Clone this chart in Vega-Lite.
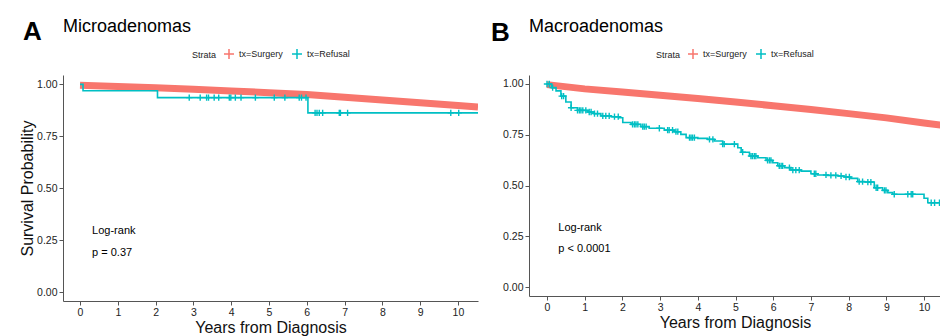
{
  "$schema": "https://vega.github.io/schema/vega-lite/v6.json",
  "padding": {"left": 19, "top": 17, "right": 0, "bottom": 0},
  "background": "white",
  "bounds": "flush",
  "spacing": 51,
  "resolve": {"scale": {"color": "independent"}, "legend": {"color": "independent"}},
  "datasets": {
    "surgeryA": [
      {"strata": "tx=Surgery", "t": 0, "s": 0.996},
      {"strata": "tx=Surgery", "t": 1, "s": 0.99},
      {"strata": "tx=Surgery", "t": 2, "s": 0.984},
      {"strata": "tx=Surgery", "t": 3, "s": 0.976},
      {"strata": "tx=Surgery", "t": 4, "s": 0.968},
      {"strata": "tx=Surgery", "t": 5, "s": 0.96},
      {"strata": "tx=Surgery", "t": 6, "s": 0.951},
      {"strata": "tx=Surgery", "t": 7, "s": 0.938},
      {"strata": "tx=Surgery", "t": 8, "s": 0.925},
      {"strata": "tx=Surgery", "t": 9, "s": 0.912},
      {"strata": "tx=Surgery", "t": 10, "s": 0.898},
      {"strata": "tx=Surgery", "t": 10.53, "s": 0.891}
    ],
    "refusalA": [
      {"strata": "tx=Refusal", "t": 0, "s": 1.0},
      {"strata": "tx=Refusal", "t": 0.08, "s": 0.969},
      {"strata": "tx=Refusal", "t": 2.05, "s": 0.936},
      {"strata": "tx=Refusal", "t": 6.03, "s": 0.863},
      {"strata": "tx=Refusal", "t": 10.53, "s": 0.863}
    ],
    "censorA": [
      {"strata": "tx=Refusal", "t": 2.89, "s": 0.936},
      {"strata": "tx=Refusal", "t": 3.18, "s": 0.936},
      {"strata": "tx=Refusal", "t": 3.35, "s": 0.936},
      {"strata": "tx=Refusal", "t": 3.4, "s": 0.936},
      {"strata": "tx=Refusal", "t": 3.55, "s": 0.936},
      {"strata": "tx=Refusal", "t": 3.67, "s": 0.936},
      {"strata": "tx=Refusal", "t": 3.95, "s": 0.936},
      {"strata": "tx=Refusal", "t": 3.99, "s": 0.936},
      {"strata": "tx=Refusal", "t": 4.11, "s": 0.936},
      {"strata": "tx=Refusal", "t": 4.26, "s": 0.936},
      {"strata": "tx=Refusal", "t": 4.64, "s": 0.936},
      {"strata": "tx=Refusal", "t": 5.14, "s": 0.936},
      {"strata": "tx=Refusal", "t": 5.42, "s": 0.936},
      {"strata": "tx=Refusal", "t": 5.8, "s": 0.936},
      {"strata": "tx=Refusal", "t": 5.86, "s": 0.936},
      {"strata": "tx=Refusal", "t": 5.98, "s": 0.936},
      {"strata": "tx=Refusal", "t": 6.22, "s": 0.863},
      {"strata": "tx=Refusal", "t": 6.27, "s": 0.863},
      {"strata": "tx=Refusal", "t": 6.33, "s": 0.863},
      {"strata": "tx=Refusal", "t": 6.42, "s": 0.863},
      {"strata": "tx=Refusal", "t": 6.86, "s": 0.863},
      {"strata": "tx=Refusal", "t": 6.89, "s": 0.863},
      {"strata": "tx=Refusal", "t": 7.08, "s": 0.863},
      {"strata": "tx=Refusal", "t": 9.81, "s": 0.863},
      {"strata": "tx=Refusal", "t": 10.02, "s": 0.863}
    ],
    "surgeryB": [
      {"strata": "tx=Surgery", "t": 0, "s": 0.997},
      {"strata": "tx=Surgery", "t": 1, "s": 0.976},
      {"strata": "tx=Surgery", "t": 2, "s": 0.961},
      {"strata": "tx=Surgery", "t": 3, "s": 0.945},
      {"strata": "tx=Surgery", "t": 4, "s": 0.928},
      {"strata": "tx=Surgery", "t": 5, "s": 0.911},
      {"strata": "tx=Surgery", "t": 6, "s": 0.893},
      {"strata": "tx=Surgery", "t": 7, "s": 0.874},
      {"strata": "tx=Surgery", "t": 8, "s": 0.854},
      {"strata": "tx=Surgery", "t": 9, "s": 0.833},
      {"strata": "tx=Surgery", "t": 10, "s": 0.808},
      {"strata": "tx=Surgery", "t": 10.45, "s": 0.797}
    ],
    "refusalB": [
      {"strata": "tx=Refusal", "t": 0, "s": 1.0},
      {"strata": "tx=Refusal", "t": 0.12, "s": 0.982},
      {"strata": "tx=Refusal", "t": 0.24, "s": 0.966},
      {"strata": "tx=Refusal", "t": 0.37, "s": 0.94},
      {"strata": "tx=Refusal", "t": 0.5, "s": 0.911},
      {"strata": "tx=Refusal", "t": 0.64, "s": 0.883},
      {"strata": "tx=Refusal", "t": 0.81, "s": 0.87},
      {"strata": "tx=Refusal", "t": 1.08, "s": 0.862},
      {"strata": "tx=Refusal", "t": 1.25, "s": 0.854},
      {"strata": "tx=Refusal", "t": 1.43, "s": 0.843},
      {"strata": "tx=Refusal", "t": 1.7, "s": 0.839},
      {"strata": "tx=Refusal", "t": 1.92, "s": 0.834},
      {"strata": "tx=Refusal", "t": 2.01, "s": 0.81},
      {"strata": "tx=Refusal", "t": 2.23, "s": 0.801},
      {"strata": "tx=Refusal", "t": 2.49, "s": 0.79},
      {"strata": "tx=Refusal", "t": 2.71, "s": 0.782},
      {"strata": "tx=Refusal", "t": 3.11, "s": 0.773},
      {"strata": "tx=Refusal", "t": 3.38, "s": 0.765},
      {"strata": "tx=Refusal", "t": 3.55, "s": 0.752},
      {"strata": "tx=Refusal", "t": 3.69, "s": 0.736},
      {"strata": "tx=Refusal", "t": 4.0, "s": 0.732},
      {"strata": "tx=Refusal", "t": 4.26, "s": 0.727},
      {"strata": "tx=Refusal", "t": 4.44, "s": 0.719},
      {"strata": "tx=Refusal", "t": 4.66, "s": 0.704},
      {"strata": "tx=Refusal", "t": 5.06, "s": 0.686},
      {"strata": "tx=Refusal", "t": 5.15, "s": 0.664},
      {"strata": "tx=Refusal", "t": 5.37, "s": 0.645},
      {"strata": "tx=Refusal", "t": 5.59, "s": 0.637},
      {"strata": "tx=Refusal", "t": 5.81, "s": 0.624},
      {"strata": "tx=Refusal", "t": 5.99, "s": 0.612},
      {"strata": "tx=Refusal", "t": 6.12, "s": 0.597},
      {"strata": "tx=Refusal", "t": 6.3, "s": 0.588},
      {"strata": "tx=Refusal", "t": 6.47, "s": 0.576},
      {"strata": "tx=Refusal", "t": 6.74, "s": 0.571},
      {"strata": "tx=Refusal", "t": 7.0, "s": 0.558},
      {"strata": "tx=Refusal", "t": 7.18, "s": 0.552},
      {"strata": "tx=Refusal", "t": 7.45, "s": 0.55},
      {"strata": "tx=Refusal", "t": 7.71, "s": 0.547},
      {"strata": "tx=Refusal", "t": 7.89, "s": 0.542},
      {"strata": "tx=Refusal", "t": 8.06, "s": 0.535},
      {"strata": "tx=Refusal", "t": 8.24, "s": 0.519},
      {"strata": "tx=Refusal", "t": 8.42, "s": 0.517},
      {"strata": "tx=Refusal", "t": 8.68, "s": 0.489},
      {"strata": "tx=Refusal", "t": 8.9, "s": 0.476},
      {"strata": "tx=Refusal", "t": 9.04, "s": 0.465},
      {"strata": "tx=Refusal", "t": 9.17, "s": 0.457},
      {"strata": "tx=Refusal", "t": 10.0, "s": 0.437},
      {"strata": "tx=Refusal", "t": 10.1, "s": 0.415},
      {"strata": "tx=Refusal", "t": 10.45, "s": 0.415}
    ],
    "censorB": [
      {"strata": "tx=Refusal", "t": 0.0, "s": 1.0},
      {"strata": "tx=Refusal", "t": 0.06, "s": 1.0},
      {"strata": "tx=Refusal", "t": 0.15, "s": 0.982},
      {"strata": "tx=Refusal", "t": 0.39, "s": 0.94},
      {"strata": "tx=Refusal", "t": 0.44, "s": 0.94},
      {"strata": "tx=Refusal", "t": 0.64, "s": 0.883},
      {"strata": "tx=Refusal", "t": 0.81, "s": 0.87},
      {"strata": "tx=Refusal", "t": 0.86, "s": 0.87},
      {"strata": "tx=Refusal", "t": 0.9, "s": 0.87},
      {"strata": "tx=Refusal", "t": 0.95, "s": 0.87},
      {"strata": "tx=Refusal", "t": 1.03, "s": 0.87},
      {"strata": "tx=Refusal", "t": 1.12, "s": 0.862},
      {"strata": "tx=Refusal", "t": 1.17, "s": 0.862},
      {"strata": "tx=Refusal", "t": 1.26, "s": 0.854},
      {"strata": "tx=Refusal", "t": 1.34, "s": 0.854},
      {"strata": "tx=Refusal", "t": 1.48, "s": 0.843},
      {"strata": "tx=Refusal", "t": 1.56, "s": 0.843},
      {"strata": "tx=Refusal", "t": 1.65, "s": 0.843},
      {"strata": "tx=Refusal", "t": 1.79, "s": 0.839},
      {"strata": "tx=Refusal", "t": 1.89, "s": 0.839},
      {"strata": "tx=Refusal", "t": 2.27, "s": 0.801},
      {"strata": "tx=Refusal", "t": 2.32, "s": 0.801},
      {"strata": "tx=Refusal", "t": 2.36, "s": 0.801},
      {"strata": "tx=Refusal", "t": 2.41, "s": 0.801},
      {"strata": "tx=Refusal", "t": 2.54, "s": 0.79},
      {"strata": "tx=Refusal", "t": 2.58, "s": 0.79},
      {"strata": "tx=Refusal", "t": 2.63, "s": 0.79},
      {"strata": "tx=Refusal", "t": 2.98, "s": 0.782},
      {"strata": "tx=Refusal", "t": 3.2, "s": 0.773},
      {"strata": "tx=Refusal", "t": 3.24, "s": 0.773},
      {"strata": "tx=Refusal", "t": 3.33, "s": 0.773},
      {"strata": "tx=Refusal", "t": 3.42, "s": 0.765},
      {"strata": "tx=Refusal", "t": 3.47, "s": 0.765},
      {"strata": "tx=Refusal", "t": 3.78, "s": 0.736},
      {"strata": "tx=Refusal", "t": 3.82, "s": 0.736},
      {"strata": "tx=Refusal", "t": 3.86, "s": 0.736},
      {"strata": "tx=Refusal", "t": 3.91, "s": 0.736},
      {"strata": "tx=Refusal", "t": 4.31, "s": 0.727},
      {"strata": "tx=Refusal", "t": 4.4, "s": 0.727},
      {"strata": "tx=Refusal", "t": 4.66, "s": 0.704},
      {"strata": "tx=Refusal", "t": 4.7, "s": 0.704},
      {"strata": "tx=Refusal", "t": 4.97, "s": 0.704},
      {"strata": "tx=Refusal", "t": 5.19, "s": 0.664},
      {"strata": "tx=Refusal", "t": 5.41, "s": 0.645},
      {"strata": "tx=Refusal", "t": 5.45, "s": 0.645},
      {"strata": "tx=Refusal", "t": 5.5, "s": 0.645},
      {"strata": "tx=Refusal", "t": 5.54, "s": 0.645},
      {"strata": "tx=Refusal", "t": 5.85, "s": 0.624},
      {"strata": "tx=Refusal", "t": 5.9, "s": 0.624},
      {"strata": "tx=Refusal", "t": 5.94, "s": 0.624},
      {"strata": "tx=Refusal", "t": 6.16, "s": 0.597},
      {"strata": "tx=Refusal", "t": 6.21, "s": 0.597},
      {"strata": "tx=Refusal", "t": 6.25, "s": 0.597},
      {"strata": "tx=Refusal", "t": 6.43, "s": 0.588},
      {"strata": "tx=Refusal", "t": 6.52, "s": 0.576},
      {"strata": "tx=Refusal", "t": 6.6, "s": 0.576},
      {"strata": "tx=Refusal", "t": 6.69, "s": 0.576},
      {"strata": "tx=Refusal", "t": 7.09, "s": 0.558},
      {"strata": "tx=Refusal", "t": 7.13, "s": 0.558},
      {"strata": "tx=Refusal", "t": 7.4, "s": 0.552},
      {"strata": "tx=Refusal", "t": 7.53, "s": 0.55},
      {"strata": "tx=Refusal", "t": 7.66, "s": 0.55},
      {"strata": "tx=Refusal", "t": 7.8, "s": 0.547},
      {"strata": "tx=Refusal", "t": 7.93, "s": 0.542},
      {"strata": "tx=Refusal", "t": 8.02, "s": 0.542},
      {"strata": "tx=Refusal", "t": 8.28, "s": 0.519},
      {"strata": "tx=Refusal", "t": 8.37, "s": 0.519},
      {"strata": "tx=Refusal", "t": 8.51, "s": 0.517},
      {"strata": "tx=Refusal", "t": 8.59, "s": 0.517},
      {"strata": "tx=Refusal", "t": 8.73, "s": 0.489},
      {"strata": "tx=Refusal", "t": 8.77, "s": 0.489},
      {"strata": "tx=Refusal", "t": 8.95, "s": 0.476},
      {"strata": "tx=Refusal", "t": 8.99, "s": 0.476},
      {"strata": "tx=Refusal", "t": 9.21, "s": 0.457},
      {"strata": "tx=Refusal", "t": 9.57, "s": 0.457},
      {"strata": "tx=Refusal", "t": 9.66, "s": 0.457},
      {"strata": "tx=Refusal", "t": 9.7, "s": 0.457},
      {"strata": "tx=Refusal", "t": 10.19, "s": 0.415},
      {"strata": "tx=Refusal", "t": 10.28, "s": 0.415},
      {"strata": "tx=Refusal", "t": 10.41, "s": 0.415}
    ]
  },
  "hconcat": [
    {
      "width": 415,
      "height": 226,
      "layer": [
        {"data": {"name": "surgeryA"}, "mark": {"type": "line", "strokeWidth": 7, "clip": true},
         "encoding": {
           "x": {"field": "t", "type": "quantitative", "scale": {"domain": [-0.45, 10.53], "nice": false, "zero": false}, "axis": {"values": [0, 1, 2, 3, 4, 5, 6, 7, 8, 9, 10], "title": "Years from Diagnosis"}},
           "y": {"field": "s", "type": "quantitative", "scale": {"domain": [-0.042, 1.045], "nice": false, "zero": false}, "axis": {"values": [0, 0.25, 0.5, 0.75, 1], "format": ".2f", "title": "Survival Probability"}},
           "color": {"field": "strata", "type": "nominal", "scale": {"domain": ["tx=Surgery", "tx=Refusal"], "range": ["#F8766D", "#00BFC4"]},
           "legend": {"title": "Strata", "orient": "top", "direction": "horizontal", "titleOrient": "left", "symbolType": "M-1,0H1M0,-1V1", "symbolSize": 100, "symbolStrokeWidth": 1.5}}}},
        {"data": {"name": "refusalA"}, "mark": {"type": "line", "interpolate": "step-after", "strokeWidth": 1.6, "clip": true},
         "encoding": {
           "x": {"field": "t", "type": "quantitative", "scale": {"domain": [-0.45, 10.53], "nice": false, "zero": false}},
           "y": {"field": "s", "type": "quantitative", "scale": {"domain": [-0.042, 1.045], "nice": false, "zero": false}},
           "color": {"field": "strata", "type": "nominal"}}},
        {"data": {"name": "censorA"}, "mark": {"type": "point", "shape": "M-1,0H1M0,-1V1", "filled": false, "size": 40, "strokeWidth": 1.4, "opacity": 1, "clip": true},
         "encoding": {
           "x": {"field": "t", "type": "quantitative", "scale": {"domain": [-0.45, 10.53], "nice": false, "zero": false}},
           "y": {"field": "s", "type": "quantitative", "scale": {"domain": [-0.042, 1.045], "nice": false, "zero": false}},
           "color": {"field": "strata", "type": "nominal"}}},
        {"data": {"values": [{}]}, "mark": {"type": "text", "text": "Log-rank", "align": "left", "baseline": "alphabetic", "fontSize": 11, "color": "black"},
         "encoding": {"x": {"datum": 0.32, "type": "quantitative"}, "y": {"datum": 0.28, "type": "quantitative"}}},
        {"data": {"values": [{}]}, "mark": {"type": "text", "text": "p = 0.37", "align": "left", "baseline": "alphabetic", "fontSize": 11, "color": "black"},
         "encoding": {"x": {"datum": 0.32, "type": "quantitative"}, "y": {"datum": 0.174, "type": "quantitative"}}},
        {"data": {"values": [{}]}, "mark": {"type": "text", "text": "A", "align": "left", "baseline": "alphabetic", "fontSize": 26, "fontWeight": "bold", "color": "black"},
         "encoding": {"x": {"datum": -1.51, "type": "quantitative"}, "y": {"datum": 1.212, "type": "quantitative"}}},
        {"data": {"values": [{}]}, "mark": {"type": "text", "text": "Microadenomas", "align": "left", "baseline": "alphabetic", "fontSize": 18, "color": "black"},
         "encoding": {"x": {"datum": -0.45, "type": "quantitative"}, "y": {"datum": 1.254, "type": "quantitative"}}}
      ]
    },
    {
      "width": 412,
      "height": 221,
      "layer": [
        {"data": {"name": "surgeryB"}, "mark": {"type": "line", "strokeWidth": 7, "clip": true},
         "encoding": {
           "x": {"field": "t", "type": "quantitative", "scale": {"domain": [-0.477, 10.45], "nice": false, "zero": false}, "axis": {"values": [0, 1, 2, 3, 4, 5, 6, 7, 8, 9, 10], "title": "Years from Diagnosis"}},
           "y": {"field": "s", "type": "quantitative", "scale": {"domain": [-0.0443, 1.0443], "nice": false, "zero": false}, "axis": {"values": [0, 0.25, 0.5, 0.75, 1], "format": ".2f", "title": null}},
           "color": {"field": "strata", "type": "nominal", "scale": {"domain": ["tx=Surgery", "tx=Refusal"], "range": ["#F8766D", "#00BFC4"]},
           "legend": {"title": "Strata", "orient": "top", "direction": "horizontal", "titleOrient": "left", "symbolType": "M-1,0H1M0,-1V1", "symbolSize": 100, "symbolStrokeWidth": 1.5}}}},
        {"data": {"name": "refusalB"}, "mark": {"type": "line", "interpolate": "step-after", "strokeWidth": 1.6, "clip": true},
         "encoding": {
           "x": {"field": "t", "type": "quantitative", "scale": {"domain": [-0.477, 10.45], "nice": false, "zero": false}},
           "y": {"field": "s", "type": "quantitative", "scale": {"domain": [-0.0443, 1.0443], "nice": false, "zero": false}},
           "color": {"field": "strata", "type": "nominal"}}},
        {"data": {"name": "censorB"}, "mark": {"type": "point", "shape": "M-1,0H1M0,-1V1", "filled": false, "size": 40, "strokeWidth": 1.4, "opacity": 1, "clip": true},
         "encoding": {
           "x": {"field": "t", "type": "quantitative", "scale": {"domain": [-0.477, 10.45], "nice": false, "zero": false}},
           "y": {"field": "s", "type": "quantitative", "scale": {"domain": [-0.0443, 1.0443], "nice": false, "zero": false}},
           "color": {"field": "strata", "type": "nominal"}}},
        {"data": {"values": [{}]}, "mark": {"type": "text", "text": "Log-rank", "align": "left", "baseline": "alphabetic", "fontSize": 11, "color": "black"},
         "encoding": {"x": {"datum": 0.3, "type": "quantitative"}, "y": {"datum": 0.276, "type": "quantitative"}}},
        {"data": {"values": [{}]}, "mark": {"type": "text", "text": "p < 0.0001", "align": "left", "baseline": "alphabetic", "fontSize": 11, "color": "black"},
         "encoding": {"x": {"datum": 0.3, "type": "quantitative"}, "y": {"datum": 0.17, "type": "quantitative"}}},
        {"data": {"values": [{}]}, "mark": {"type": "text", "text": "B", "align": "left", "baseline": "alphabetic", "fontSize": 26, "fontWeight": "bold", "color": "black"},
         "encoding": {"x": {"datum": -1.485, "type": "quantitative"}, "y": {"datum": 1.212, "type": "quantitative"}}},
        {"data": {"values": [{}]}, "mark": {"type": "text", "text": "Macroadenomas", "align": "left", "baseline": "alphabetic", "fontSize": 18, "color": "black"},
         "encoding": {"x": {"datum": -0.477, "type": "quantitative"}, "y": {"datum": 1.2576, "type": "quantitative"}}}
      ]
    }
  ],
  "config": {
    "font": "Liberation Sans",
    "view": {"stroke": null},
    "axis": {"grid": false, "domainColor": "#555555", "tickColor": "#555555", "labelColor": "#222222", "titleColor": "#111111",
      "labelFontSize": 10.5, "titleFontSize": 16, "titleFontWeight": "normal", "tickSize": 4, "labelPadding": 2, "labelFlush": false, "labelOverlap": false},
    "axisX": {"titlePadding": 2},
    "axisY": {"titlePadding": 1},
    "legend": {"titleFontSize": 9, "titleFontWeight": "normal", "titleColor": "#222222", "labelFontSize": 9, "labelColor": "#222222",
      "labelOffset": 4, "columnPadding": 6, "titlePadding": 6, "offset": 13, "padding": 0,
      "layout": {"top": {"anchor": "middle"}}}
  }
}
